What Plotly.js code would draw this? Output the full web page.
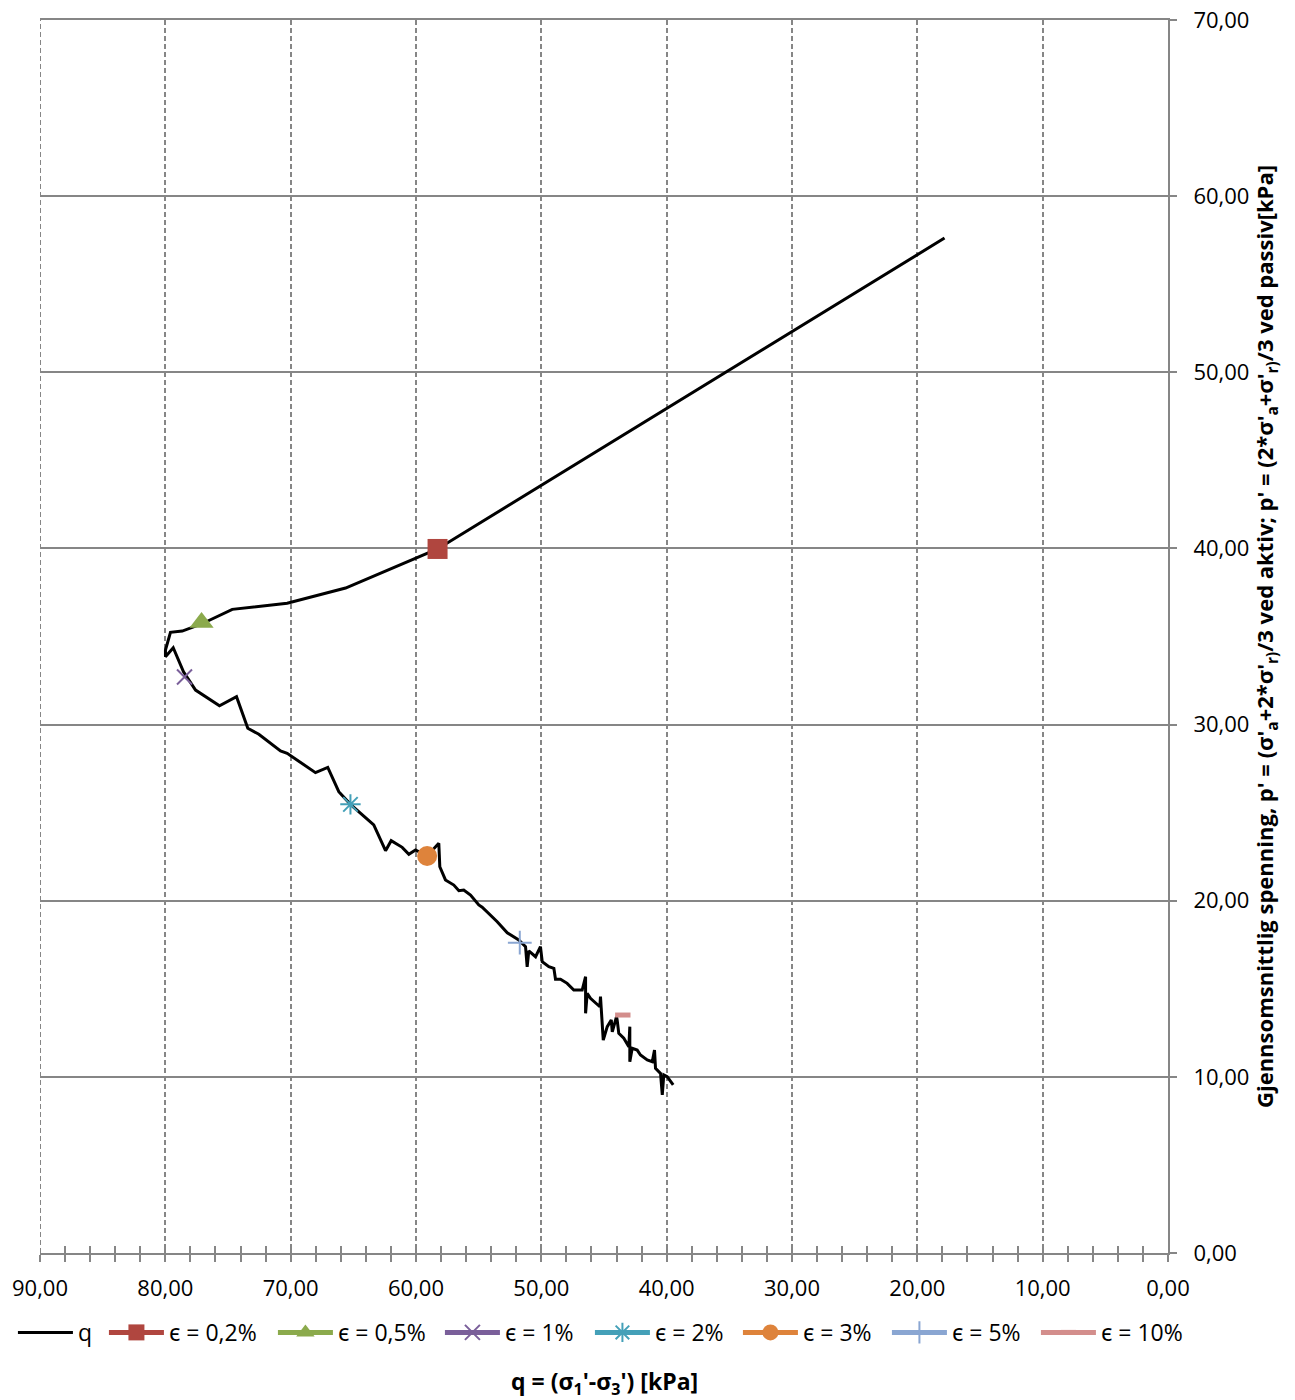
<!DOCTYPE html>
<html>
<head>
<meta charset="utf-8">
<script src="https://cdn.plot.ly/plotly-3.0.1.min.js"></script>
<style>html,body{margin:0;padding:0;background:#fff;}#chart{width:1295px;height:1400px;}</style>
</head>
<body>
<div id="chart"></div>
<script>
// q-path: x = q (kPa), y = p' (kPa)
const qX = [17.83, 58.28, 65.62, 70.28, 74.66, 77.11, 78.65, 79.59, 79.99, 79.99, 79.37, 78.55, 77.59, 75.68, 74.32, 73.42, 72.54, 70.81, 70.28, 68.02, 67.04, 66.16, 65.23, 63.37, 62.43, 61.98, 61.10, 60.57, 60.04, 59.11, 58.18, 58.10, 57.65, 56.98, 56.58, 56.19, 55.65, 54.99, 54.72, 53.66, 53.52, 52.72, 51.80, 51.26, 51.13, 51.00, 50.46, 50.07, 49.93, 49.40, 49.00, 48.87, 48.47, 47.94, 47.41, 46.74, 46.47, 46.47, 46.34, 46.08, 45.81, 45.33, 45.28, 45.14, 45.06, 44.74, 44.42, 44.34, 44.00, 43.95, 43.82, 43.42, 43.02, 42.94, 42.94, 42.75, 42.35, 42.09, 41.55, 41.15, 40.97, 40.89, 40.49, 40.35, 40.23, 39.96, 39.48];
const qY = [57.62, 39.97, 37.75, 36.89, 36.54, 35.71, 35.31, 35.24, 34.23, 33.85, 34.36, 33.00, 31.96, 31.07, 31.58, 29.79, 29.45, 28.50, 28.37, 27.27, 27.57, 26.19, 25.47, 24.30, 22.84, 23.41, 23.03, 22.64, 22.88, 22.54, 23.26, 21.93, 21.18, 20.89, 20.57, 20.61, 20.32, 19.76, 19.63, 18.95, 18.81, 18.18, 17.77, 17.39, 16.25, 17.15, 16.82, 17.39, 16.54, 16.25, 16.16, 15.54, 15.54, 15.31, 14.93, 14.93, 15.69, 13.61, 14.74, 14.46, 14.27, 13.98, 14.55, 13.23, 12.09, 12.85, 13.23, 12.56, 13.42, 13.23, 12.47, 12.19, 11.71, 12.85, 10.86, 11.62, 11.52, 11.24, 10.96, 10.86, 11.52, 10.49, 10.20, 8.97, 10.11, 10.01, 9.54];

// strain markers
const strainLabels = ["ϵ = 0,2%", "ϵ = 0,5%", "ϵ = 1%", "ϵ = 2%", "ϵ = 3%", "ϵ = 5%", "ϵ = 10%"];
const strainX = [58.28, 77.11, 78.47, 65.23, 59.11, 51.72, 43.50];
const strainY = [39.97, 35.80, 32.70, 25.47, 22.54, 17.62, 13.51];

const xTickVals = [90, 80, 70, 60, 50, 40, 30, 20, 10, 0];
const yTickVals = [0, 10, 20, 30, 40, 50, 60, 70];
const xTitle = "<b>q = (σ<sub>1</sub>'-σ<sub>3</sub>') [kPa]</b>";
const yTitle = "<b>Gjennsomsnittlig spenning, p' = (σ'<sub>a</sub>+2*σ'<sub>r)</sub>/3 ved aktiv; p' = (2*σ'<sub>a</sub>+σ'<sub>r)</sub>/3 ved passiv[kPa]</b>";

const styles = [
  {symbol: 'square', size: 20, color: '#B0463F', lw: 0, lgw: 99},
  {symbol: 'triangle-up', size: 21, color: '#8BAA4C', lw: 0, lgw: 97},
  {symbol: 'x-thin', size: 15, color: '#7A5F9A', lw: 2, lgw: 80},
  {symbol: 'asterisk', size: 17, color: '#44A0B8', lw: 2, lgw: 78},
  {symbol: 'circle', size: 20, color: '#DE833B', lw: 0, lgw: 79},
  {symbol: 'cross-thin', size: 17, color: '#8AA6D2', lw: 2, lgw: 79},
  {symbol: 'line-ew', size: 11, color: '#D38E8C', lw: 5, lgw: 79}
];

const FONT = 'Open Sans, Noto Sans, sans-serif';
const gray = '#868686';

const traces = [{
  x: qX, y: qY, type: 'scatter', mode: 'lines', name: 'q',
  line: {color: '#000000', width: 3}, legendwidth: 21
}];
strainLabels.forEach((lab, i) => {
  const s = styles[i];
  traces.push({
    x: [strainX[i]], y: [strainY[i]], type: 'scatter', mode: 'lines+markers', name: lab,
    line: {color: s.color, width: 5}, legendwidth: s.lgw,
    marker: {symbol: s.symbol, size: s.size, color: s.color, line: {color: s.color, width: s.lw}}
  });
});
// helper trace for inside ticks (cross-tick look)
traces.push({x: [null], y: [null], xaxis: 'x2', yaxis: 'y2', showlegend: false, hoverinfo: 'skip', type: 'scatter'});

const layout = {
  width: 1295, height: 1400,
  margin: {l: 40, r: 127, t: 20, b: 147},
  paper_bgcolor: '#ffffff', plot_bgcolor: '#ffffff',
  separators: ', ',
  font: {family: FONT, size: 22, color: '#000'},
  showlegend: true,
  legend: {orientation: 'h', x: -0.024, xanchor: 'left', y: -0.047, yanchor: 'top',
    font: {family: FONT, size: 23, color: '#000'}, itemwidth: 55, tracegroupgap: 0},
  xaxis: {
    range: [90, 0], tickvals: xTickVals, tickformat: '.2f', automargin: false,
    showline: true, linecolor: gray, linewidth: 2, mirror: true,
    ticks: 'outside', ticklen: 7, tickcolor: gray, tickwidth: 2,
    minor: {dtick: 2, tick0: 0, ticks: 'outside', ticklen: 7, tickcolor: gray, tickwidth: 2, showgrid: false},
    showgrid: true, gridcolor: gray, gridwidth: 2, griddash: '5px,3px',
    zeroline: false, ticklabelstandoff: 8,
    tickfont: {family: FONT, size: 22, color: '#000'}
  },
  yaxis: {
    range: [0, 70], tickvals: yTickVals, tickformat: '.2f', side: 'right', automargin: false,
    showline: true, linecolor: gray, linewidth: 2,
    ticks: 'outside', ticklen: 7, tickcolor: gray, tickwidth: 2,
    showgrid: true, gridcolor: gray, gridwidth: 2,
    zeroline: false, ticklabelstandoff: 12,
    tickfont: {family: FONT, size: 22, color: '#000'},
    title: {text: yTitle, standoff: 6, font: {family: FONT, size: 22, color: '#000'}}
  },
  xaxis2: {
    overlaying: 'x', anchor: 'y2', range: [90, 0], tickvals: xTickVals, automargin: false,
    ticks: 'inside', ticklen: 7, tickcolor: gray, tickwidth: 2, showticklabels: false,
    minor: {dtick: 2, tick0: 0, ticks: 'inside', ticklen: 7, tickcolor: gray, tickwidth: 2, showgrid: false},
    showgrid: false, zeroline: false, showline: false
  },
  yaxis2: {
    overlaying: 'y', anchor: 'x2', side: 'right', range: [0, 70], tickvals: yTickVals, automargin: false,
    ticks: 'inside', ticklen: 7, tickcolor: gray, tickwidth: 2, showticklabels: false,
    showgrid: false, zeroline: false, showline: false
  },
  annotations: [{text: xTitle, xref: 'paper', yref: 'paper', x: 0.5, y: -0.1054, xanchor: 'center', yanchor: 'middle',
    showarrow: false, font: {family: FONT, size: 23, color: '#000'}}],
  // left-edge gridline at the first x tick (edge gridlines are clipped by Plotly)
  shapes: [{type: 'line', xref: 'x', yref: 'paper', x0: xTickVals[0], x1: xTickVals[0], y0: 0, y1: 1,
    line: {color: gray, width: 2, dash: '5px,3px'}, layer: 'below'}]
};

Plotly.newPlot('chart', traces, layout, {displayModeBar: false, staticPlot: true});
</script>
</body>
</html>
